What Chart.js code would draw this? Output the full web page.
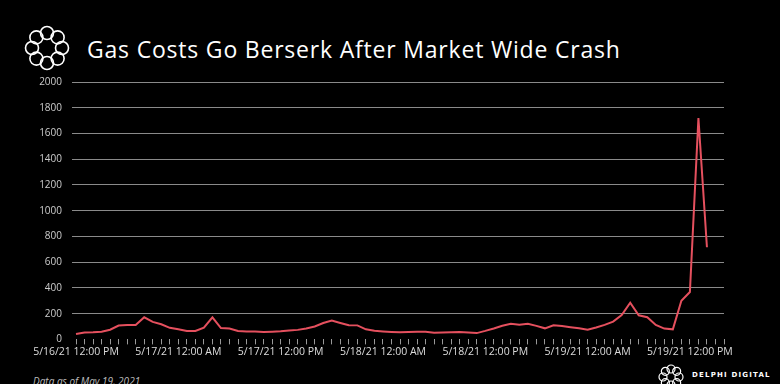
<!DOCTYPE html>
<html>
<head>
<meta charset="utf-8">
<script src="https://cdn.jsdelivr.net/npm/chart.js@4"></script>
<style>
  html, body { margin: 0; padding: 0; background: #000; }
  #wrap { position: relative; width: 780px; height: 384px; overflow: hidden; background: #000; }
  #title { position: absolute; left: 87px; top: 33px; color: #fff; font-family: "Open Sans", sans-serif; font-size: 23px; letter-spacing: 0.8px; white-space: nowrap; }
  #note { position: absolute; left: 33px; top: 374px; color: #bbb; font-family: "Open Sans", sans-serif; font-size: 10px; font-style: italic; white-space: nowrap; }
  #brand { position: absolute; left: 692px; top: 371px; color: #fff; font-family: "DejaVu Sans", sans-serif; font-size: 7px; font-weight: bold; letter-spacing: 1.2px; white-space: nowrap; }
  #chartBox { position: absolute; left: 0; top: 62px; width: 780px; height: 297px; }
  svg { position: absolute; }
</style>
</head>
<body>
<div id="wrap">
  <svg id="logo" width="60" height="60" style="left:17px;top:18px"></svg>
  <div id="title">Gas Costs Go Berserk After Market Wide Crash</div>
  <div id="chartBox"><canvas id="gasChart"></canvas></div>
  <div id="note">Data as of May 19, 2021</div>
  <svg id="logoSmall" width="30" height="30" style="left:656px;top:362px"></svg>
  <div id="brand">DELPHI DIGITAL</div>
</div>
<script>
// hourly gas cost readings, 5/16/21 12:00 PM to 5/19/21 2:00 PM
const gasCosts = [
  42, 54, 55, 60, 75, 108, 111, 112, 172, 136, 118, 90,
  79, 66, 65, 92, 172, 88, 84, 66, 62, 61, 57, 60,
  64, 70, 74, 85, 100, 127, 146, 128, 110, 109, 78, 67,
  62, 58, 55, 58, 60, 60, 52, 54, 56, 57, 53, 49,
  66, 85, 106, 121, 114, 122, 105, 86, 109, 104, 95, 86,
  75, 93, 113, 138, 190, 285, 187, 172, 112, 84, 78, 300,
  368, 1719, 716
];
const tickLabels = [
  "5/16/21 12:00 PM", "5/17/21 12:00 AM", "5/17/21 12:00 PM",
  "5/18/21 12:00 AM", "5/18/21 12:00 PM", "5/19/21 12:00 AM",
  "5/19/21 12:00 PM"
];
const hourCount = 77; // axis runs a few hours past the last reading
const yTicks = [0, 200, 400, 600, 800, 1000, 1200, 1400, 1600, 1800, 2000];

const hours = [];
for (let i = 0; i < hourCount; i++) hours.push(i);

function drawRing(id, cx, cy, ringR, r, w) {
  const svg = document.getElementById(id);
  let s = "";
  for (let k = 0; k < 8; k++) {
    const a = k * Math.PI / 4;
    s += '<circle cx="' + (cx + ringR * Math.cos(a)) + '" cy="' + (cy + ringR * Math.sin(a)) +
      '" r="' + r + '" fill="none" stroke="#fff" stroke-width="' + w + '"/>';
  }
  svg.innerHTML = s;
}
drawRing("logo", 30, 30, 15, 6.5, 1.6);
drawRing("logoSmall", 15, 15, 8, 4, 1.2);

const ctx = document.getElementById("gasChart").getContext("2d");
new Chart(ctx, {
  type: "line",
  data: {
    labels: hours,
    datasets: [
      {
        label: "Gas Costs",
        data: gasCosts,
        borderColor: "#e5505e",
        borderWidth: 2,
        pointRadius: 0,
        tension: 0,
        fill: false,
      },
    ],
  },
  options: {
    responsive: true,
    maintainAspectRatio: false,
    animation: false,
    layout: { padding: { left: 0, right: 56, top: 20, bottom: 0 } },
    plugins: { legend: { display: false }, tooltip: { enabled: false } },
    scales: {
      x: {
        type: "category",
        offset: false,
        border: { display: false },
        grid: { drawOnChartArea: false, color: "#999", tickLength: 5 },
        ticks: {
          autoSkip: false,
          maxRotation: 0,
          padding: 1,
          color: "#ddd",
          font: { family: "Open Sans", size: 10.5 },
          callback: (v, i) => (i % 12 === 0 ? tickLabels[i / 12] : ""),
        },
      },
      y: {
        min: 0,
        max: 2000,
        afterBuildTicks: (s) => { s.ticks = yTicks.map((v) => ({ value: v })); },
        afterFit: (s) => { s.width = 76; },
        border: { display: false },
        grid: {
          color: (c) => (c.tick && c.tick.value === 0 ? "rgba(0,0,0,0)" : "#8a8a8a"),
          tickLength: 4,
          drawTicks: true,
        },
        ticks: {
          padding: 10,
          color: "#ccc",
          font: { family: "Open Sans", size: 10 },
          callback: (v) => String(v),
        },
      },
    },
  },
});
</script>
</body>
</html>
